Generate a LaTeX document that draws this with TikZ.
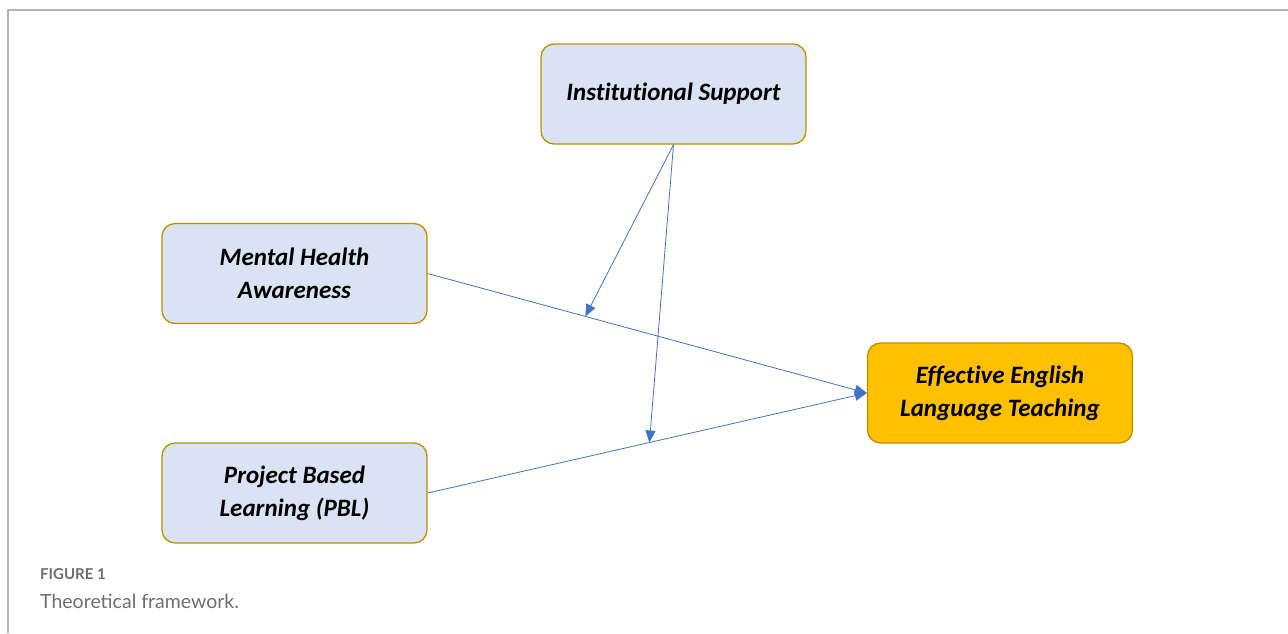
\documentclass[tikz,border=0pt]{standalone}
\usepackage{fontspec}
\setmainfont{Carlito}[Ligatures=NoCommon]
\newfontfamily\capfont{Lato}
\usetikzlibrary{arrows.meta}
\definecolor{boxblue}{HTML}{DAE3F3}
\definecolor{boxgold}{HTML}{BF9000}
\definecolor{boxamber}{HTML}{FFC000}
\definecolor{arrowblue}{HTML}{4472C4}
\definecolor{framegray}{HTML}{B4B4B4}
\definecolor{capgray}{HTML}{6E6E6E}
\begin{document}
\begin{tikzpicture}[x=1pt,y=-1pt,
  concept/.style={draw=boxgold, line width=1.3pt, fill=boxblue, rounded corners=13pt,
    minimum width=265pt, minimum height=100pt, align=center,
    font=\fontsize{25}{33}\selectfont\bfseries\itshape, inner sep=0pt},
  outcome/.style={concept, fill=boxamber},
  link/.style={draw=arrowblue, line width=0.8pt, -{Triangle[length=12pt,width=10pt]}}]
\useasboundingbox (0,0) rectangle (1288,633);
\draw[framegray, line width=1.8pt] (8,633) -- (8,10) -- (1288,10);
\node[concept] (is) at (673.5,94) {Institutional Support};
\node[concept] (mh) at (294.5,273.5) {Mental Health\\Awareness};
\node[concept] (pbl) at (294.5,493) {Project Based\\Learning (PBL)};
\node[outcome] (ee) at (1000,393) {Effective English\\Language Teaching};
\draw[link] (mh.east) -- coordinate[pos=0.359] (m1) (ee.west);
\draw[link] (pbl.east) -- coordinate[pos=0.505] (m2) (ee.west);
\draw[link] (is.south) -- (m1);
\draw[link] (is.south) -- (m2);
\node[anchor=base west, inner sep=0pt, text=capgray, font=\capfont\fontsize{15}{18}\selectfont\bfseries] (fig) at (40,579) {FIGURE 1};
\node[anchor=base west, inner sep=0pt, text=capgray, font=\capfont\fontsize{19.5}{24}\selectfont] (cap) at (40,608) {Theoretical framework.};
\end{tikzpicture}
\end{document}
